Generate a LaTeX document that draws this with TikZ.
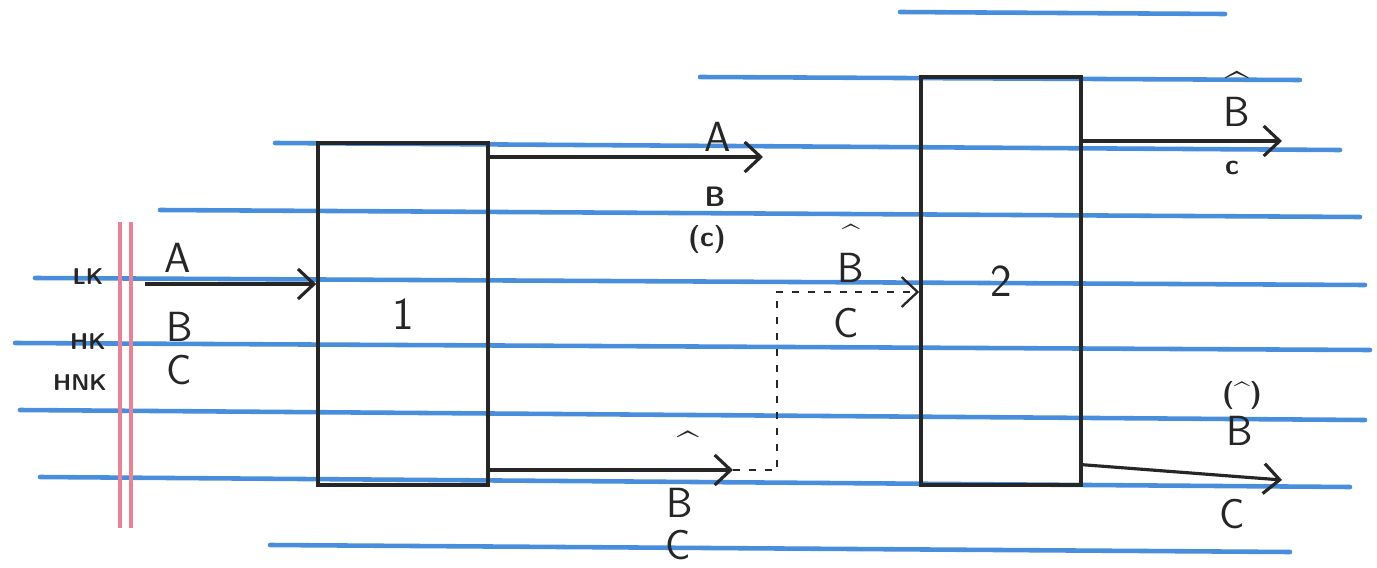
\documentclass[tikz,border=0pt]{standalone}
\usepackage{tikz}
\usetikzlibrary{arrows.meta,positioning}
\usepackage{xcolor}
\definecolor{ruleblue}{RGB}{72,142,220}
\definecolor{margin}{RGB}{236,128,150}
\definecolor{ink}{RGB}{38,38,38}

\tikzset{
  rule/.style={draw=ruleblue, line width=2.6pt, line cap=round},
  unit/.style={draw=ink, line width=2pt, minimum width=3.4cm, text=ink,
    font=\sffamily\fontsize{26}{26}\selectfont},
  flow/.style={draw=ink, line width=1.8pt, -{Straight Barb[length=3.2mm,width=6mm]}},
  recycle/.style={flow, line width=1.3pt, dash pattern=on 4pt off 5pt},
  bigtxt/.style={text=ink, inner sep=0pt, font=\sffamily\fontsize{24}{24}\selectfont},
  midtxt/.style={text=ink, inner sep=0pt, font=\sffamily\bfseries\fontsize{16}{16}\selectfont},
  hattxt/.style={text=ink, inner sep=0pt, font=\sffamily\bfseries\fontsize{22}{22}\selectfont},
  tag/.style={text=ink, inner sep=0pt, font=\sffamily\bfseries\fontsize{13}{13}\selectfont}
}

\begin{document}
\begin{tikzpicture}[x=0.02cm, y=-0.02cm]
            \useasboundingbox (0,0) rectangle (1377,568);

            % Paper
            \foreach \xa/\ya/\xb/\yb in {900/12/1225/14, 700/77/1300/80, 275/143/1340/150,
                160/210/1360/217, 35/278/1365/285, 15/343/1370/350, 20/410/1365/420,
                40/477/1350/487, 270/545/1290/552}
                \draw[rule] (\xa,\ya) -- (\xb,\yb);
            \draw[margin, line width=2.2pt] (120,222) -- (120,528);
            \draw[margin, line width=2.2pt] (131,222) -- (131,528);

            % Units
            \node[unit, minimum height=6.84cm] (u1) at (403,314) {1};
            \node[unit, minimum width=3.2cm, minimum height=8.16cm] (u2) at (1001,281) {2};

            % Feed
            \coordinate (feed) at (145,284);
            \draw[flow] (feed) -- (feed -| u1.west);
            \node[tag] (lk) at (88,277) {LK};
            \node[tag] (hk) at (88,342) {HK};
            \node[tag] (hnk) at (80,383) {HNK};
            \node[bigtxt] (fa) at (178,258) {A};
            \node[bigtxt] (fb) at (180,327) {B};
            \node[bigtxt] (fc) at (179,370) {C};

            % Unit 1 out
            \coordinate (top1) at (763,157);
            \draw[flow] (top1 -| u1.east) -- (top1);
            \node[bigtxt] (ta) at (718,137) {A};
            \node[midtxt] (tb) at (715,197) {B};
            \node[midtxt] (tc) at (707,239) {(c)};

            \coordinate (bot1) at (733,470);
            \draw[flow] (bot1 -| u1.east) -- (bot1);
            \node[hattxt] (bh) at (688,445) {\textasciicircum};
            \node[bigtxt] (bb) at (680,503) {B};
            \node[bigtxt] (bc) at (678,545) {C};

            % Recycle
            \coordinate (bend) at (777,292);
            \draw[recycle] (bot1) -| (bend) -- (bend -| u2.west);
            \node[bigtxt, align=center, anchor=south] (rb) at (851,283)
                {{\bfseries\fontsize{18}{18}\selectfont\textasciicircum}\\[-4pt]B};
            \node[bigtxt] (rc) at (846,323) {C};

            % Unit 2 out
            \coordinate (top2) at (1282,141);
            \draw[flow] (top2 -| u2.east) -- (top2);
            \node[bigtxt, align=center, anchor=south] (sb) at (1237,127)
                {{\bfseries\textasciicircum}\\[-10pt]B};
            \node[midtxt] (sc) at (1232,168) {c};

            \coordinate (bot2) at (1282,480);
            \draw[flow] ([yshift=0.44cm]u2.south east) -- (bot2);
            \node[midtxt, anchor=south] (wh) at (1242,410) {(\textasciicircum)};
            \node[bigtxt, anchor=north] (wb) at (1240,416) {B};
            \node[bigtxt] (wc) at (1232,514) {C};
        \end{tikzpicture}
\end{document}
